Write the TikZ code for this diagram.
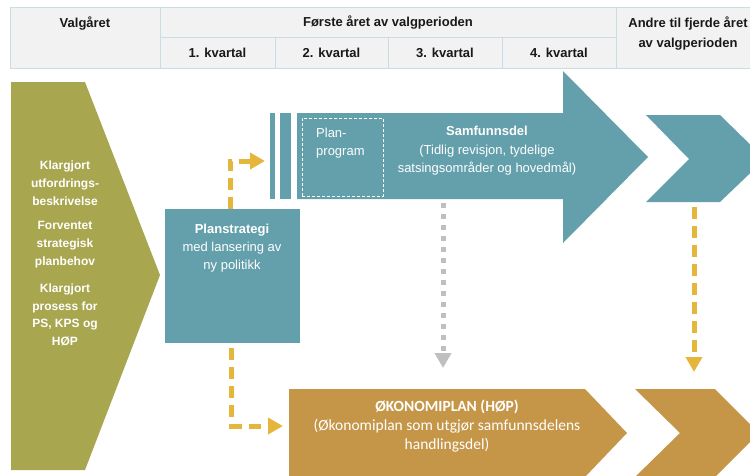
\documentclass[tikz,border=0pt]{standalone}
\usepackage{fontspec}
\setmainfont{Liberation Sans}
\newfontfamily\calfont{Carlito}
\usetikzlibrary{arrows.meta,calc}
\definecolor{tealc}{RGB}{99,160,172}
\definecolor{olivec}{RGB}{169,166,80}
\definecolor{ochrec}{RGB}{197,150,72}
\definecolor{yelc}{RGB}{228,183,60}
\definecolor{grayc}{RGB}{191,191,191}
\definecolor{hdrfill}{RGB}{242,242,242}
\definecolor{hdrline}{RGB}{200,222,228}
\definecolor{hdrtext}{RGB}{25,25,25}
\begin{document}
\begin{tikzpicture}[x=1pt,y=-1pt,
  hdr/.style={font=\fontsize{13}{20}\selectfont\bfseries, text=hdrtext, inner sep=0pt, align=center},
  hline/.style={draw=hdrline, line width=1pt},
  wtxt/.style={text=white, inner sep=0pt, align=center},
  ydash/.style={draw=yelc, line width=5pt, dash pattern=on 12pt off 7pt, -{Triangle[length=15pt,width=16pt]}},
  gdot/.style={draw=grayc, line width=5pt, dash pattern=on 5pt off 6pt, -{Triangle[length=15pt,width=16pt]}}
]
\useasboundingbox (0,0) rectangle (750,475);
% header table
\fill[hdrfill] (10,7) rectangle (760,68);
\draw[hline] (760,7) -- (10,7) -- (10,68) -- (760,68);
\draw[hline] (160,7) -- (160,68);
\draw[hline] (616,7) -- (616,68);
\draw[hline] (160,37) -- (616,37);
\draw[hline] (275,37) -- (275,68);
\draw[hline] (388,37) -- (388,68);
\draw[hline] (502,37) -- (502,68);
\node[hdr] (h0) at (85,24) {Valgåret};
\node[hdr] (h1) at (388,23) {Første året av valgperioden};
\node[hdr] (k1) at (217.5,53) {1. kvartal};
\node[hdr] (k2) at (331.5,53) {2. kvartal};
\node[hdr] (k3) at (445,53) {3. kvartal};
\node[hdr] (k4) at (559,53) {4. kvartal};
\node[hdr] (h2) at (688,34) {Andre til fjerde året\\av valgperioden};
% left olive arrow
\fill[olivec] (11,82) -- (85,82) -- (160,275) -- (85,470) -- (11,470) -- cycle;
\node[wtxt, font=\fontsize{12}{18}\selectfont\bfseries] (l1) at (65,183) {Klargjort\\utfordrings-\\beskrivelse};
\node[wtxt, font=\fontsize{12}{18}\selectfont\bfseries] (l2) at (65,245) {Forventet\\strategisk\\planbehov};
\node[wtxt, font=\fontsize{12}{17.7}\selectfont\bfseries] (l3) at (65,315) {Klargjort\\prosess for\\PS, KPS og\\HØP};
% planstrategi
\node[fill=tealc, minimum width=135pt, minimum height=134pt, inner sep=0pt, anchor=north west] (ps) at (165,209) {};
\node[wtxt, font=\fontsize{13}{18}\selectfont] (pst) at (232,248) {\textbf{Planstrategi}\\med lansering av\\ny politikk};
% big teal arrow
\fill[tealc] (270,113) rectangle (275,199);
\fill[tealc] (280,113) rectangle (291,199);
\fill[tealc] (297,113) -- (563,113) -- (563,71) -- (648,157) -- (563,243) -- (563,199) -- (297,199) -- cycle;
\coordinate (sbar) at (265,161);
\coordinate (sbot) at (443,199);
\node[draw=white, dash pattern=on 3pt off 2pt, line width=0.9pt, minimum width=81pt, minimum height=78pt, inner sep=0pt, anchor=north west] (pp) at (302,118) {};
\node[wtxt, align=left, anchor=west, font=\fontsize{13}{18}\selectfont] (ppt) at (316,143) {Plan-\\program};
\node[wtxt, font=\fontsize{13}{18.5}\selectfont] (sam) at (487,151) {\textbf{Samfunnsdel}\\(Tidlig revisjon, tydelige\\satsingsområder og hovedmål)};
% right teal chevron
\fill[tealc] (646,115) -- (720,115) -- (765,159) -- (720,202) -- (646,202) -- (689,159) -- cycle;
\coordinate (rbot) at (694,202);
% okonomiplan
\fill[ochrec] (289,389) -- (585,389) -- (627,433) -- (585,477) -- (289,477) -- cycle;
\node[wtxt, font=\fontsize{15.5}{19}\selectfont\calfont] (ok) at (447,426) {\textbf{ØKONOMIPLAN (HØP)}\\(Økonomiplan som utgjør samfunnsdelens\\handlingsdel)};
\coordinate (okleft) at (283,426);
\coordinate (oktop) at (443,389);
\fill[ochrec] (635,389) -- (715,389) -- (759,433) -- (715,477) -- (635,477) -- (680,433) -- cycle;
\coordinate (rtop) at (694,389);
% connectors
\draw[ydash] ($(ps.north)+(-2.5,0)$) |- (sbar);
\draw[ydash] ($(ps.south)+(-1.5,5)$) |- (okleft);
\draw[gdot] ($(sbot)+(0,4)$) -- ($(oktop)+(0,-21)$);
\draw[ydash] ($(rbot)+(0,5)$) -- ($(rtop)+(0,-17)$);
\end{tikzpicture}
\end{document}
